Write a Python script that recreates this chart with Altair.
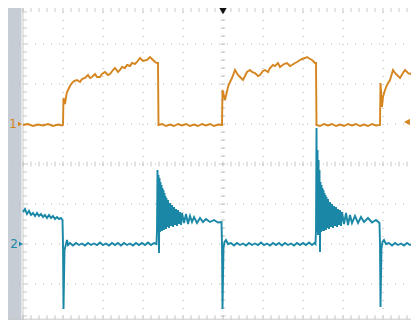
import altair as alt
import pandas as pd

# Oscilloscope capture: time in us (4 us/div, 0 = left graticule edge),
# each channel in V relative to its ground marker (4 V/div).
ch1 = [(0, -0.1), (0.5, 0), (1.0, -0.2), (1.5, -0.05), (2.0, -0.15), (2.5, 0), (3.0, -0.2), (3.5, -0.05),
       (3.9, -0.15), (4.0, -0.1), (4.05, 2.6), (4.2, 2.0), (4.35, 3.0), (4.5, 3.4), (4.7, 3.8), (4.9, 4.1),
       (5.1, 4.3), (5.4, 4.4), (5.7, 4.2), (5.9, 4.5), (6.2, 4.6), (6.5, 4.9), (6.7, 4.6), (6.9, 4.7),
       (7.2, 5.0), (7.4, 4.7), (7.7, 4.7), (7.9, 5.0), (8.2, 5.2), (8.5, 4.9), (8.7, 5.0), (9.0, 5.4),
       (9.2, 5.6), (9.5, 5.2), (9.7, 5.4), (9.9, 5.7), (10.2, 5.6), (10.4, 5.9), (10.7, 5.8), (10.9, 6.1),
       (11.2, 6.0), (11.4, 6.2), (11.7, 6.6), (12.0, 6.3), (12.4, 6.4), (12.7, 6.7), (12.9, 6.5), (13.2, 6.2),
       (13.4, 6.1), (13.5, 6.1), (13.55, -0.1), (13.9, 0), (14.3, -0.2), (14.7, -0.05), (15.1, -0.2), (15.5, 0),
       (15.9, -0.15), (16.3, 0), (16.7, -0.2), (17.1, -0.05), (17.5, -0.2), (17.9, 0), (18.3, -0.15), (18.7, 0),
       (19.1, -0.2), (19.5, -0.05), (19.85, -0.1), (19.9, -0.1), (19.95, 3.4), (20.2, 2.4), (20.5, 3.7),
       (20.7, 4.2), (20.9, 4.6), (21.2, 5.4), (21.5, 4.9), (21.7, 4.7), (22.0, 4.4), (22.2, 4.8), (22.4, 5.2),
       (22.7, 5.4), (22.9, 5.2), (23.2, 5.1), (23.5, 4.8), (23.7, 4.9), (24.0, 5.3), (24.2, 5.4), (24.5, 5.2),
       (24.7, 5.6), (25.0, 5.9), (25.2, 5.8), (25.5, 6.1), (25.7, 5.7), (26.1, 6.0), (26.4, 6.1), (26.7, 5.8),
       (26.9, 5.9), (27.2, 6.1), (27.4, 6.2), (27.7, 6.4), (27.9, 6.5), (28.2, 6.6), (28.4, 6.7), (28.7, 6.5),
       (28.9, 6.4), (29.2, 6.1), (29.3, 6.1), (29.35, -0.1), (29.7, -0.2), (30.1, 0), (30.5, -0.15), (30.9, 0),
       (31.3, -0.2), (31.7, -0.05), (32.1, -0.2), (32.5, 0), (32.9, -0.15), (33.3, 0), (33.7, -0.2), (34.1, -0.05),
       (34.5, -0.2), (34.9, 0), (35.3, -0.15), (35.7, -0.1), (35.75, 4.1), (35.9, 1.7), (36.0, 2.7), (36.2, 3.4),
       (36.4, 3.9), (36.7, 4.4), (37.0, 5.4), (37.2, 5.1), (37.4, 4.9), (37.7, 4.6), (38.0, 5.1), (38.2, 5.4),
       (38.5, 5.1), (38.7, 5.0), (39.0, 5.2), (39.2, 5.4), (39.4, 5.6), (39.6, 5.7), (39.8, 5.8)]

ch2 = [(0, 3.2), (0.2, 3.5), (0.4, 3.0), (0.6, 3.3), (0.8, 2.9), (1.0, 3.1), (1.2, 2.8), (1.4, 3.1), (1.6, 2.8),
       (1.8, 3.0), (2.0, 2.7), (2.2, 2.9), (2.4, 2.6), (2.6, 2.9), (2.8, 2.6), (3.0, 2.8), (3.2, 2.5), (3.4, 2.7),
       (3.6, 2.5), (3.8, 2.6), (3.95, 2.4), (4.0, 0), (4.05, -6.5), (4.15, -0.6), (4.25, -0.2), (4.4, 0.4),
       (4.5, -0.1), (4.7, 0.1), (5.0, -0.15), (5.3, 0.1), (5.6, -0.1), (5.9, 0.05), (6.2, -0.15), (6.5, 0.1),
       (6.8, -0.1), (7.1, 0.05), (7.4, -0.1), (7.7, 0.15), (8.0, -0.1), (8.3, 0.05), (8.6, -0.15), (8.9, 0.1),
       (9.2, -0.1), (9.5, 0.1), (9.8, -0.15), (10.1, 0.1), (10.4, -0.1), (10.7, 0.05), (11.0, -0.15), (11.3, 0.1),
       (11.6, -0.1), (11.9, 0.1), (12.2, -0.1), (12.5, 0.15), (12.8, -0.1), (13.1, 0.1), (13.35, 0),
       (13.4, 1.4), (13.45, 7.4), (13.5, 1.2), (13.55, 6.9), (13.6, -0.9), (13.65, 6.6), (13.7, 1.2), (13.75, 6.2),
       (13.8, 1.4), (13.85, 5.9), (13.9, 1.3), (13.95, 5.6), (14.0, 1.5), (14.05, 5.4), (14.1, 1.4), (14.15, 5.1),
       (14.2, 1.6), (14.25, 4.8), (14.3, 1.5), (14.35, 4.6), (14.4, 1.7), (14.5, 4.4), (14.6, 1.6), (14.7, 4.1),
       (14.8, 1.8), (14.9, 3.9), (15.0, 1.7), (15.1, 3.7), (15.2, 1.9), (15.3, 3.5), (15.4, 1.8), (15.5, 3.4),
       (15.6, 2.0), (15.7, 3.2), (15.8, 1.9), (15.9, 3.1), (16.1, 2.1), (16.3, 3.0), (16.5, 2.0), (16.7, 2.8),
       (16.9, 2.2), (17.1, 2.7), (17.4, 2.1), (17.7, 2.6), (18.0, 2.2), (18.3, 2.5), (18.7, 2.2), (19.1, 2.4),
       (19.5, 2.15), (19.85, 2.2), (19.9, 0), (19.95, -6.5), (20.05, -0.4), (20.15, 0.2), (20.3, 0.4), (20.5, 0),
       (20.8, 0.1), (21.1, -0.15), (21.4, 0.1), (21.7, -0.1), (22.0, 0.05), (22.3, -0.15), (22.6, 0.1), (22.9, -0.1),
       (23.2, 0.05), (23.5, -0.1), (23.8, 0.15), (24.1, -0.1), (24.4, 0.05), (24.7, -0.15), (25.0, 0.1), (25.3, -0.1),
       (25.6, 0.1), (25.9, -0.15), (26.2, 0.1), (26.5, -0.1), (26.8, 0.05), (27.1, -0.15), (27.4, 0.1), (27.7, -0.1),
       (28.0, 0.1), (28.3, -0.1), (28.6, 0.15), (28.9, -0.1), (29.15, 0.1), (29.25, 0),
       (29.3, 1.4), (29.35, 11.6), (29.4, 1.2), (29.45, 9.4), (29.5, 0.9), (29.55, 8.4), (29.6, 1.1), (29.65, 7.4),
       (29.7, -0.8), (29.75, 6.2), (29.8, 1.2), (29.85, 5.9), (29.9, 1.3), (29.95, 5.6), (30.0, 1.4), (30.05, 5.4),
       (30.1, 1.3), (30.15, 5.1), (30.2, 1.5), (30.25, 4.9), (30.3, 1.4), (30.35, 4.7), (30.4, 1.6), (30.5, 4.5),
       (30.6, 1.5), (30.7, 4.2), (30.8, 1.7), (30.9, 4.0), (31.0, 1.6), (31.1, 3.8), (31.2, 1.8), (31.3, 3.7),
       (31.4, 1.7), (31.5, 3.5), (31.6, 1.9), (31.7, 3.4), (31.8, 1.8), (31.9, 3.2), (32.1, 2.0), (32.3, 3.1),
       (32.5, 1.9), (32.7, 2.9), (32.9, 2.1), (33.2, 2.8), (33.5, 2.1), (33.8, 2.7), (34.1, 2.2), (34.5, 2.6),
       (34.9, 2.15), (35.3, 2.4), (35.65, 2.1), (35.7, 0), (35.75, -6.3), (35.85, -0.4), (35.95, 0.2), (36.1, 0.4),
       (36.3, 0), (36.6, 0.1), (36.9, -0.15), (37.2, 0.1), (37.5, -0.1), (37.8, 0.05), (38.1, -0.15), (38.4, 0.1),
       (38.7, -0.1), (39.0, 0.05), (39.3, -0.15), (39.6, 0.1), (39.8, 0)]

channels = ["1", "2"]
channel_offsets = [1, -2]      # marker position, divisions
volts_per_div = 4
trigger_time = 20
trigger_level = 0.2            # V on channel 1
grid_t = [4, 8, 12, 16, 20, 24, 28, 32, 36]
grid_y = [-3, -2, -1, 0, 1, 2, 3]

ORANGE = "#d5851f"
TEAL = "#1987a5"
GRID = "#b9b9b9"
TICK = "#b0b0b0"

rows = []
for name, trace, off in ((channels[0], ch1, channel_offsets[0]), (channels[1], ch2, channel_offsets[1])):
    for i, (t, v) in enumerate(trace):
        rows.append({"ch": name, "i": i, "t": t, "v": v, "off": off})
df = pd.DataFrame(rows)

W, H = 403, 312
xs = alt.Scale(domain=[-1.5, 38.8], nice=False, zero=False)
ys = alt.Scale(domain=[-3.9, 3.9], nice=False, zero=False)


def X(field=None, datum=None):
    if datum is not None:
        return alt.XDatum(datum, type="quantitative", scale=xs, axis=None)
    return alt.X(field, type="quantitative", scale=xs, axis=None)


def Y(field=None, datum=None):
    if datum is not None:
        return alt.YDatum(datum, type="quantitative", scale=ys, axis=None)
    return alt.Y(field, type="quantitative", scale=ys, axis=None)


one = pd.DataFrame({"a": [0]})

bar = alt.Chart(one).mark_rect(color="#c6cdd4").encode(
    x=X(datum=-1.6), x2=alt.X2Datum(-0.15), y=Y(datum=-4.2), y2=alt.Y2Datum(4.0))

vgrid = alt.Chart(pd.DataFrame({"t": grid_t})).mark_rule(
    color=GRID, strokeWidth=1.2, strokeDash=[1, 7], strokeDashOffset=4).encode(x=X("t"))
hgrid = alt.Chart(pd.DataFrame({"y": grid_y})).mark_rule(
    color=GRID, strokeWidth=1.2, strokeDash=[1, 7], strokeDashOffset=1).encode(y=Y("y"))
left_edge = alt.Chart(one).mark_rule(color="#c9c9c9", strokeWidth=1).encode(x=X(datum=0))
bottom_edge = alt.Chart(one).mark_rule(color="#c9c9c9", strokeWidth=1).encode(y=Y(datum=-3.88))

tx = alt.sequence(0, 39.7, 0.8, as_="t")
ty = alt.sequence(-3.8, 3.95, 0.2, as_="y")
hticks_c = alt.Chart(tx).mark_tick(orient="vertical", size=5, thickness=1, color=TICK).encode(x=X("t"), y=Y(datum=0))
hticks_b = alt.Chart(tx).mark_tick(orient="vertical", size=4, thickness=1, color=TICK).encode(x=X("t"), y=Y(datum=-3.83))
hticks_t = alt.Chart(tx).mark_tick(orient="vertical", size=4, thickness=1, color=TICK).encode(x=X("t"), y=Y(datum=3.85))
vticks_c = alt.Chart(ty).mark_tick(orient="horizontal", size=5, thickness=1, color=TICK).encode(y=Y("y"), x=X(datum=trigger_time))
vticks_l = alt.Chart(ty).mark_tick(orient="horizontal", size=4, thickness=1, color=TICK).encode(y=Y("y"), x=X(datum=0.2))

traces = alt.Chart(df).transform_calculate(
    pos=f"datum.off + datum.v / {volts_per_div}"
).mark_line(strokeWidth=1.9, interpolate="linear", clip=True).encode(
    x=X("t"), y=Y("pos"),
    color=alt.Color("ch:N", scale=alt.Scale(domain=channels, range=[ORANGE, TEAL]), legend=None),
    detail="ch:N", order="i:Q")

m1 = alt.Chart(one).mark_text(text=channels[0], color=ORANGE, fontSize=12,
                              font="DejaVu Sans", align="center", baseline="middle").encode(
    x=alt.value(5), y=Y(datum=channel_offsets[0]))
m2 = alt.Chart(one).mark_text(text=channels[1], color=TEAL, fontSize=12,
                              font="DejaVu Sans", align="center", baseline="middle").encode(
    x=alt.value(6), y=Y(datum=channel_offsets[1]))
a1 = alt.Chart(one).mark_point(shape="triangle-right", filled=True, size=22, color=ORANGE, opacity=1).encode(
    x=alt.value(12), y=Y(datum=channel_offsets[0]))
a2 = alt.Chart(one).mark_point(shape="triangle-right", filled=True, size=22, color=TEAL, opacity=1).encode(
    x=alt.value(13), y=Y(datum=channel_offsets[1]))
trig = alt.Chart(one).mark_point(shape="triangle-left", filled=True, size=45, color=ORANGE, opacity=1).encode(
    x=alt.value(399), y=Y(datum=channel_offsets[0] + trigger_level / volts_per_div))
tarrow = alt.Chart(one).mark_point(shape="triangle-down", filled=True, size=60, color="#111111", opacity=1).encode(
    x=X(datum=trigger_time), y=alt.value(3))

chart = alt.layer(
    bar, vgrid, hgrid, left_edge, bottom_edge, hticks_c, hticks_b, hticks_t, vticks_c, vticks_l,
    traces, m1, m2, a1, a2, trig, tarrow
).properties(width=W, height=H, padding=0, autosize="none", background="white").configure_view(stroke=None)

chart.save("out.html", embed_options={"renderer": "svg", "actions": False})
